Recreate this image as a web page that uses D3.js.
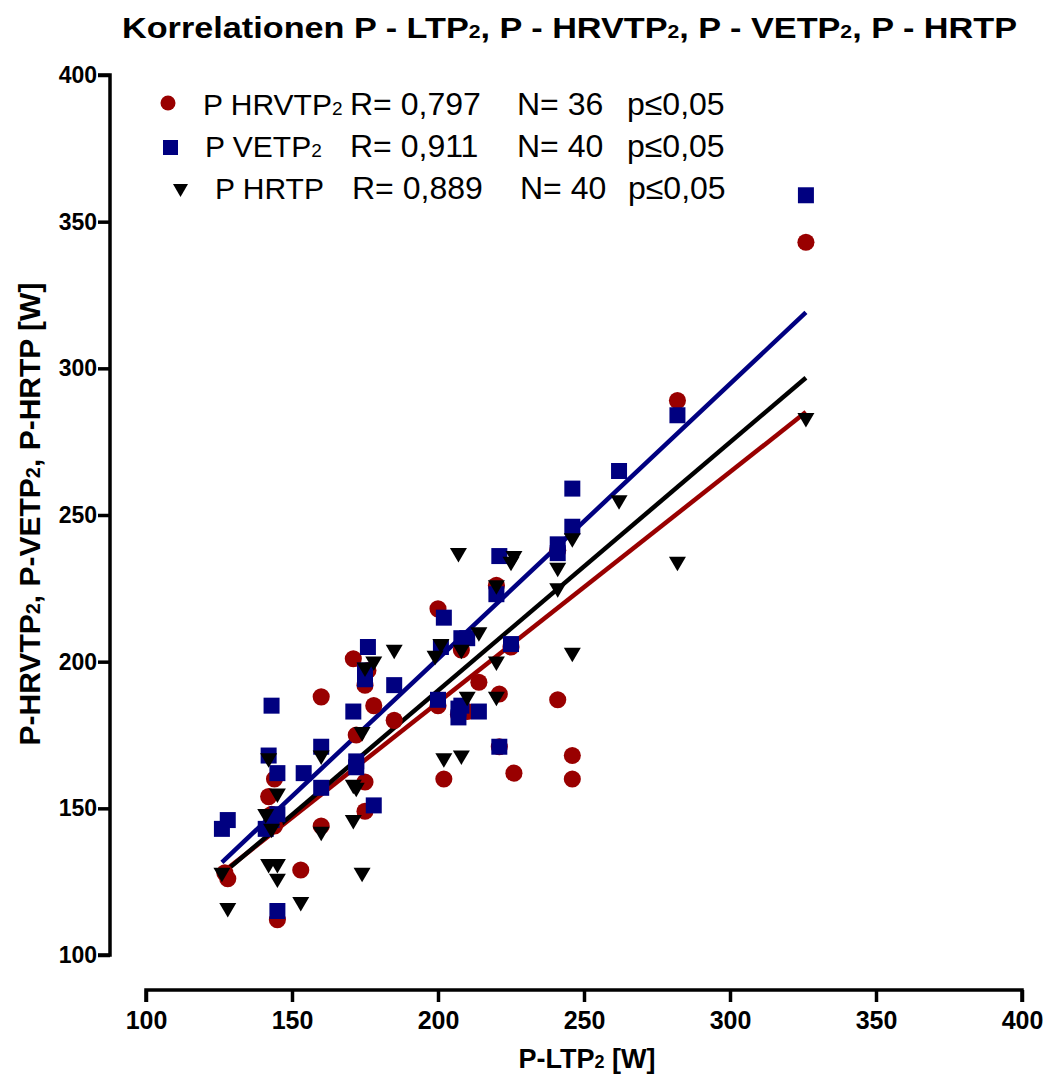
<!DOCTYPE html>
<html lang="en">
<head>
<meta charset="utf-8">
<title>Korrelationen P-LTP2</title>
<script src="https://d3js.org/d3.v7.min.js"></script>
<style>
  body { margin: 0; background: #fff; }
  text { font-family: "Liberation Sans", Arial, sans-serif; }
</style>
</head>
<body>
<svg id="chart"></svg>
<script>
// P-LTP2 (x) vs P-HRVTP2 / P-VETP2 / P-HRTP (y), watts
var hrvtpX = [127,128,145,142,144,144,153,160,160,171,172,175,175,175,178,185,200,200,202,208,210,214,220,221,226,241,246,246,282,326,225,143,176,207,221,241];
var hrvtpY = [128,126,112,154,144,160,129,188,144,201,175,192,159,149,185,180,218,185,160,204,183,193,226,189,162,187,168,160,289,343,205,148,197,182,171,238];

var vetpX = [126,128,142,143,145,145,141,145,154,160,160,171,172,176,175,175,185,178,200,202,201,208,210,207,207,214,221,220,225,221,241,241,246,246,262,282,326,143,172,208];
var vetpY = [143,146,168,185,162,148,143,115,162,171,157,183,166,205,197,194,192,151,187,215,205,208,208,184,181,183,236,223,206,171,240,237,259,246,265,284,359,146,164,185];

var hrtpX = [126,128,142,145,141,143,142,145,145,160,160,153,171,171,185,178,175,174,174,207,226,225,220,241,241,246,214,201,208,199,220,246,210,220,202,208,262,282,326,172];
var hrtpY = [128,116,167,155,148,143,131,131,126,168,142,118,158,146,204,200,198,176,128,237,236,234,226,232,225,242,210,206,204,202,200,203,188,188,167,168,255,234,283,157];

var xTicks = [100,150,200,250,300,350,400];
var yTicks = [100,150,200,250,300,350,400];

var legendNames = ["P HRVTP", "P VETP", "P HRTP"];
var legendSub = ["2", "2", ""];
var legendR = ["R= 0,797", "R= 0,911", "R= 0,889"];
var legendN = ["N= 36", "N= 40", "N= 40"];
var legendP = ["p\u22640,05", "p\u22640,05", "p\u22640,05"];

var W = 1050, H = 1077;
var svg = d3.select("#chart").attr("width", W).attr("height", H);

var x = d3.scaleLinear().domain([100, 400]).range([146, 1022]);
var y = d3.scaleLinear().domain([100, 400]).range([955, 75]);

var red = "#990000", blue = "#000080", black = "#000000";

// title
var title = svg.append("text")
    .attr("x", 122).attr("y", 38)
    .attr("font-size", 29).attr("font-weight", "bold")
    .attr("textLength", 895).attr("lengthAdjust", "spacingAndGlyphs");
[["Korrelationen P - LTP", false], ["2", true], [", P - HRVTP", false], ["2", true],
 [", P - VETP", false], ["2", true], [", P - HRTP", false]].forEach(function(p) {
    title.append("tspan").attr("font-size", p[1] ? 18 : 29).text(p[0]);
});

// axes
var xAxis = d3.axisBottom(x).tickValues(xTicks).tickSize(12).tickPadding(9);
var gx = svg.append("g").attr("transform", "translate(0,990)").call(xAxis);
var yAxis = d3.axisLeft(y).tickValues(yTicks).tickSize(12).tickPadding(1);
var gy = svg.append("g").attr("transform", "translate(110,0)").call(yAxis);

[gx, gy].forEach(function(g) {
    g.select(".domain").attr("stroke-width", 3.5).attr("stroke", "#000");
    g.selectAll(".tick line").attr("stroke-width", 3.5).attr("stroke", "#000");
    g.selectAll(".tick text").attr("font-weight", "bold")
        .attr("fill", "#000").attr("font-family", "'Liberation Sans', Arial, sans-serif");
});
gx.selectAll(".tick text").attr("font-size", 25);
gy.selectAll(".tick text").attr("font-size", 23);
gx.select(".domain").attr("d", "M146,12V0H1022V12");
gy.select(".domain").attr("d", "M-12,75H0V955H-12");

// axis labels
var xl = svg.append("text").attr("x", 587).attr("y", 1068)
    .attr("text-anchor", "middle").attr("font-size", 27).attr("font-weight", "bold");
xl.append("tspan").text("P-LTP");
xl.append("tspan").attr("font-size", 18).text("2");
xl.append("tspan").text(" [W]");

var yl = svg.append("text").attr("transform", "translate(40,514) rotate(-90)")
    .attr("text-anchor", "middle").attr("font-size", 30).attr("font-weight", "bold");
[["P-HRVTP", 0], ["2", 1], [", P-VETP", 0], ["2", 1], [", P-HRTP [W]", 0]].forEach(function(p) {
    yl.append("tspan").attr("font-size", p[1] ? 20 : 30).text(p[0]);
});

// regression lines
function fit(xs, ys) {
    var mx = d3.mean(xs), my = d3.mean(ys);
    var sxy = d3.sum(xs, function(v, i) { return (v - mx) * (ys[i] - my); });
    var sxx = d3.sum(xs, function(v) { return (v - mx) * (v - mx); });
    var b = sxy / sxx, a = my - b * mx;
    var x0 = d3.min(xs), x1 = d3.max(xs);
    return [[x0, a + b * x0], [x1, a + b * x1]];
}
var line = d3.line().x(function(d) { return x(d[0]); }).y(function(d) { return y(d[1]); });
[[hrvtpX, hrvtpY, red], [hrtpX, hrtpY, black], [vetpX, vetpY, blue]].forEach(function(s) {
    svg.append("path").datum(fit(s[0], s[1]))
        .attr("d", line).attr("fill", "none").attr("stroke", s[2]).attr("stroke-width", 4.5);
});

// points
var circ = d3.symbol().type(d3.symbolCircle).size(230);
var sq = d3.symbol().type(d3.symbolSquare).size(256);
function tri(cx, cy, s) {
    return "M" + (cx - s) + "," + (cy - s * 0.6) + "H" + (cx + s) + "L" + cx + "," + (cy + s * 1.1) + "Z";
}

svg.append("g").selectAll("path").data(d3.range(hrvtpX.length)).join("path")
    .attr("transform", function(i) { return "translate(" + x(hrvtpX[i]) + "," + y(hrvtpY[i]) + ")"; })
    .attr("d", circ).attr("fill", red);

svg.append("g").selectAll("path").data(d3.range(vetpX.length)).join("path")
    .attr("transform", function(i) { return "translate(" + x(vetpX[i]) + "," + y(vetpY[i]) + ")"; })
    .attr("d", sq).attr("fill", blue);

svg.append("g").selectAll("path").data(d3.range(hrtpX.length)).join("path")
    .attr("d", function(i) { return tri(x(hrtpX[i]), y(hrtpY[i]), 8.5); }).attr("fill", black);

// legend
var lg = svg.append("g");
var rowY = [115, 157, 199];
lg.append("circle").attr("cx", 168).attr("cy", 103).attr("r", 7.5).attr("fill", red);
lg.append("rect").attr("x", 163).attr("y", 140).attr("width", 15).attr("height", 15).attr("fill", blue);
lg.append("path").attr("d", "M173,184H188L180.5,197Z").attr("fill", black);
var nameX = [203, 205, 215], rX = [350, 350, 352], nX = [517, 517, 520], pX = [627, 627, 628];
legendNames.forEach(function(n, i) {
    var t = lg.append("text").attr("x", nameX[i]).attr("y", rowY[i]).attr("font-size", 30);
    t.append("tspan").text(n);
    if (legendSub[i]) t.append("tspan").attr("font-size", 19).text(legendSub[i]);
    lg.append("text").attr("x", rX[i]).attr("y", rowY[i]).attr("font-size", 32).text(legendR[i]);
    lg.append("text").attr("x", nX[i]).attr("y", rowY[i]).attr("font-size", 32).text(legendN[i]);
    lg.append("text").attr("x", pX[i]).attr("y", rowY[i]).attr("font-size", 32).text(legendP[i]);
});
</script>
</body>
</html>
